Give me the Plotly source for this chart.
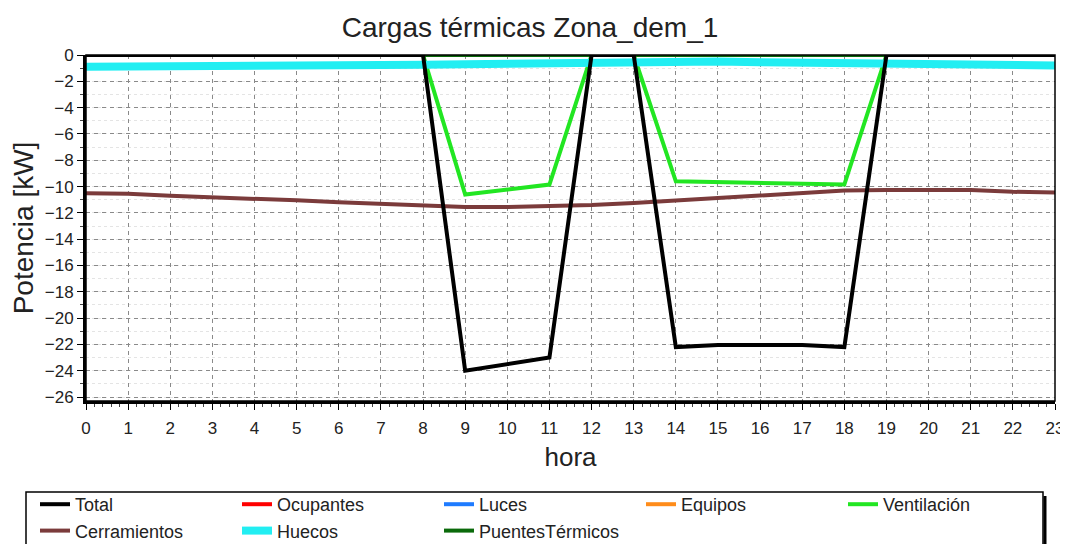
import plotly.graph_objects as go

hours = list(range(24))
tick_labels = [str(h) for h in hours]

total = [0, 0, 0, 0, 0, 0, 0, 0, 0, -24.0, -23.5, -23.0, 0, 0,
         -22.2, -22.05, -22.05, -22.05, -22.2, 0, 0, 0, 0, 0]
ocupantes = [0] * 24
luces = [0] * 24
equipos = [0] * 24
ventilacion = [0, 0, 0, 0, 0, 0, 0, 0, 0, -10.6, -10.2, -9.85, 0, 0,
               -9.6, -9.65, -9.7, -9.8, -9.85, 0, 0, 0, 0, 0]
cerramientos = [-10.5, -10.55, -10.7, -10.8, -10.95, -11.05, -11.2, -11.3,
                -11.45, -11.55, -11.55, -11.5, -11.4, -11.25, -11.05, -10.85,
                -10.65, -10.45, -10.3, -10.27, -10.27, -10.27, -10.4, -10.45]
huecos = [-0.9, -0.9, -0.9, -0.9, -0.9, -0.9, -0.85, -0.8, -0.75, -0.7,
          -0.65, -0.6, -0.5, -0.5, -0.5, -0.5, -0.55, -0.6, -0.6, -0.6,
          -0.7, -0.8, -0.8, -0.8]
puentes = [0] * 24

# (name, values, colour, width, legend rank, draw order)
series = [
    ("Total", total, "#000000", 4, 1, 8),
    ("Ocupantes", ocupantes, "#ff0000", 4, 2, 1),
    ("Luces", luces, "#1e7bff", 4, 3, 2),
    ("Equipos", equipos, "#ff8c1a", 4, 4, 3),
    ("Ventilación", ventilacion, "#22e622", 4, 5, 4),
    ("Cerramientos", cerramientos, "#7b3b3b", 4, 6, 6),
    ("Huecos", huecos, "#22eef2", 8, 7, 5),
    ("PuentesTérmicos", puentes, "#0a6a0a", 4, 8, 7),
]

fig = go.Figure()
for name, vals, color, w, rank, order in sorted(series, key=lambda s: s[5]):
    fig.add_trace(go.Scatter(
        x=hours, y=vals, name=name, mode="lines",
        line=dict(color=color, width=w),
        legendrank=rank,
    ))

FONT = "Liberation Sans, Arial, sans-serif"
# the page body adds an 8px offset; figure pixels = reference pixels - 8
OFF = 8
W, H = 1068 - OFF, 544 - OFF
L, T = 86 - OFF, 55 - OFF
R = W - (1055 - OFF)
B = H - (401 - OFF)
pw, ph = W - L - R, H - T - B

def px_x(p):
    return (p - OFF - L) / pw

def px_y(p):
    return (H - B - (p - OFF)) / ph

fig.update_layout(
    width=W, height=H,
    margin=dict(l=L, r=R, t=T, b=B, autoexpand=False),
    paper_bgcolor="white", plot_bgcolor="white",
    font=dict(family=FONT, color="#222222", size=16),
    title=dict(text="Cargas térmicas Zona_dem_1", x=(530 - OFF) / W,
               xref="container", xanchor="center", y=1 - (27 - OFF) / H,
               yref="container", yanchor="middle",
               font=dict(size=28, color="#222222")),
    showlegend=True,
    legend=dict(orientation="h", x=px_x(35), y=px_y(486),
                xanchor="left", yanchor="top", entrywidth=157,
                entrywidthmode="pixels",
                font=dict(size=18, color="#222222"), bgcolor="rgba(0,0,0,0)",
                borderwidth=0, tracegroupgap=0, itemwidth=30),
    xaxis=dict(
        range=[0, 23], tickmode="array", tickvals=hours, ticktext=tick_labels,
        showline=True, linecolor="black", linewidth=3, mirror=False,
        ticks="outside", ticklen=6, tickcolor="black", tickwidth=1,
        ticklabelstandoff=4,
        showgrid=True, gridcolor="#8a8a8a", griddash="4px,4px", gridwidth=1,
        zeroline=False, tickfont=dict(size=17, color="#222222"),
        automargin=False,
        minor=dict(dtick=0.2, ticks="outside", ticklen=3, tickcolor="#444",
                   showgrid=False),
        title=dict(text="hora", font=dict(size=26, color="#222222"), standoff=11),
    ),
    yaxis=dict(
        range=[-26.3, 0], tickmode="array",
        tickvals=list(range(0, -27, -2)),
        showline=True, linecolor="black", linewidth=3, mirror=False,
        ticks="outside", ticklen=6, tickcolor="black", tickwidth=1,
        showgrid=True, gridcolor="#8a8a8a", griddash="4px,4px", gridwidth=1,
        zeroline=False, tickfont=dict(size=17, color="#222222"),
        automargin=False,
        minor=dict(dtick=1, ticks="outside", ticklen=3, tickcolor="#444",
                   showgrid=True, gridcolor="#e4e4e4", griddash="dot"),
        title=dict(text="Potencia [kW]", font=dict(size=28, color="#222222"),
                   standoff=6),
    ),
    shapes=[
        dict(type="rect", xref="paper", yref="paper", x0=0, x1=1, y0=0, y1=1,
             line=dict(color="black", width=1.5), layer="above"),
        dict(type="rect", xref="paper", yref="paper",
             x0=px_x(26), x1=px_x(1043), y0=px_y(492), y1=px_y(546),
             line=dict(color="black", width=1.5), fillcolor="rgba(0,0,0,0)"),
        dict(type="line", xref="paper", yref="paper",
             x0=px_x(1045), x1=px_x(1045), y0=px_y(496), y1=px_y(546),
             line=dict(color="black", width=3)),
    ],
)

fig.write_html("out.html")
